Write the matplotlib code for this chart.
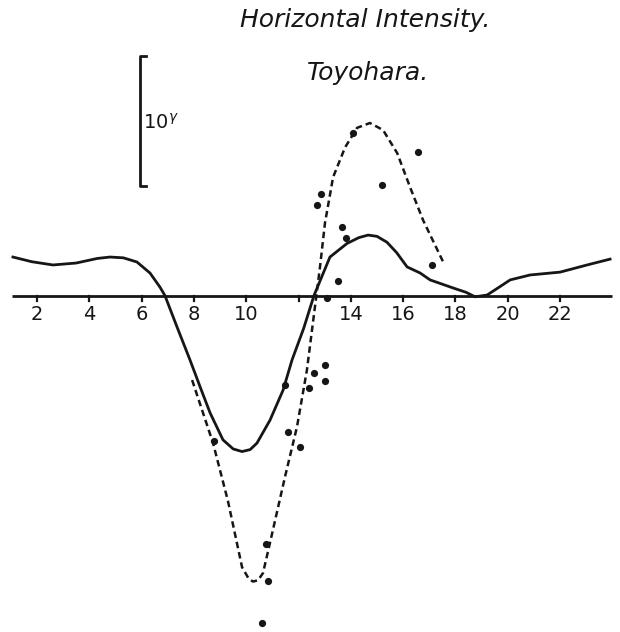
import matplotlib
matplotlib.use("Agg")
import matplotlib.pyplot as plt

# Hour axis tick labels (the 12 h tick carries no label)
tick_hours = [2, 4, 6, 8, 10, 12, 14, 16, 18, 20, 22]
tick_labels = ["2", "4", "6", "8", "10", "", "14", "16", "18", "20", "22"]

# Mean variation (solid curve), hour vs gamma
mean_hours = [1.08, 1.8, 2.61, 3.5, 4.3, 4.79, 5.3, 5.82, 6.32, 6.70, 6.89,
              7.35, 7.85, 8.25, 8.62, 9.11, 9.5, 9.84, 10.15, 10.41, 10.91,
              11.41, 11.75, 12.2, 12.59, 13.2, 13.85, 14.3, 14.66, 15.0,
              15.38, 15.75, 16.15, 16.65, 17.03, 17.91, 18.4, 18.75, 19.21,
              19.6, 20.09, 20.85, 22.0, 23.03, 23.91]
mean_gamma = [2.96, 2.6, 2.35, 2.5, 2.85, 2.96, 2.9, 2.58, 1.73, 0.65, 0.0,
              -2.4, -4.96, -7.1, -9.04, -11.1, -11.8, -12.0, -11.85, -11.35,
              -9.58, -7.27, -4.96, -2.5, 0.0, 2.96, 4.0, 4.45, 4.65, 4.55,
              4.1, 3.3, 2.2, 1.73, 1.2, 0.58, 0.25, -0.1, 0.04, 0.55, 1.2,
              1.58, 1.8, 2.35, 2.8]

# Disturbed-day variation (dashed curve)
storm_hours = [7.93, 8.73, 9.30, 9.84, 10.1, 10.26, 10.45, 10.64, 10.91,
               11.48, 11.94, 12.32, 12.82, 13.01, 13.32, 13.78, 14.24, 14.73,
               15.23, 15.77, 16.26, 16.76, 17.53]
storm_gamma = [-6.5, -11.35, -15.8, -20.9, -21.8, -22.0, -21.9, -21.35, -19.0,
               -13.96, -10.1, -5.73, 2.2, 5.58, 9.1, 11.4, 12.9, 13.27, 12.73,
               10.96, 8.35, 5.8, 2.58]

# Individual observed values
obs_hours = [12.86, 12.71, 14.08, 16.57, 15.19, 13.66, 13.82, 13.51, 13.09,
             17.10, 13.01, 12.59, 13.01, 12.40, 11.48, 8.77, 11.60, 12.06,
             10.76, 10.83, 10.60]
obs_gamma = [7.8, 6.96, 12.5, 11.04, 8.5, 5.27, 4.42, 1.12, -0.19, 2.35,
             -5.35, -5.96, -6.58, -7.12, -6.88, -11.2, -10.5, -11.65, -19.1,
             -21.96, -25.2]

ink = "#161616"

fig = plt.figure(figsize=(6.2, 6.32), dpi=100)
ax = fig.add_axes([0, 0, 1, 1])
ax.set_xlim(0.585, 24.29)
ax.set_ylim(-25.88, 22.73)
ax.axis("off")

# Time axis with short ticks below it
ax.plot([1.04, 23.99], [0, 0], color=ink, lw=2.0, solid_capstyle="butt")
for h, lab in zip(tick_hours, tick_labels):
    ax.plot([h, h], [0, -0.45], color=ink, lw=1.6)
    ax.text(h, -0.75, lab, ha="center", va="top", fontsize=14,
            color=ink, family="DejaVu Sans")

# Curves and observations
ax.plot(mean_hours, mean_gamma, color=ink, lw=2.0, solid_joinstyle="round")
ax.plot(storm_hours, storm_gamma, color=ink, lw=1.8, dashes=(2.6, 1.6))
ax.plot(obs_hours, obs_gamma, "o", color=ink, ms=5.2, mec="none")

# Scale bar of 10 gamma
bar_x = 5.94
bar_lo, bar_hi = 8.42, 18.42
ax.plot([bar_x + 0.22, bar_x, bar_x, bar_x + 0.22],
        [bar_lo, bar_lo, bar_hi, bar_hi], color=ink, lw=2.0)
ax.text(bar_x + 0.12, 13.3, r"10$^{\gamma}$", ha="left", va="center",
        fontsize=14, color=ink)

# Titles
fig.text(0.589, 0.968, "Horizontal Intensity.", ha="center", va="center",
         fontsize=18, style="italic", color=ink)
fig.text(0.594, 0.885, "Toyohara.", ha="center", va="center",
         fontsize=18, style="italic", color=ink)

fig.savefig("out.png", dpi=100, facecolor="white")
